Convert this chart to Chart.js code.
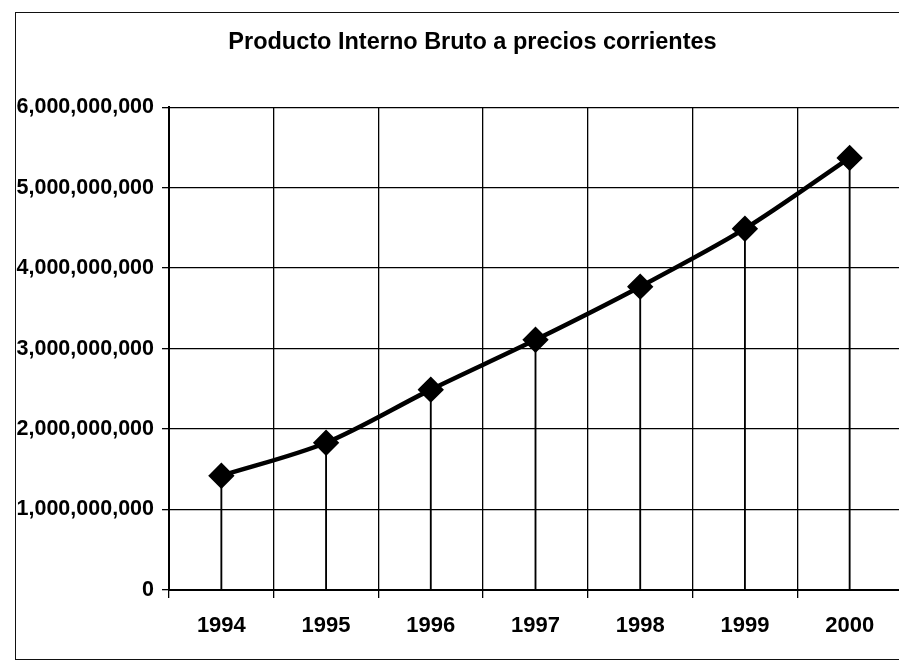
<!DOCTYPE html>
<html>
<head>
<meta charset="utf-8">
<script src="https://cdn.jsdelivr.net/npm/chart.js@4.4.1/dist/chart.umd.min.js"></script>
<style>
  html, body { margin: 0; padding: 0; background: #fff; overflow: hidden; width: 899px; height: 667px; }
  #marco { position: absolute; left: 15px; top: 12px; width: 915px; height: 648px; border: 1.5px solid #111; box-sizing: border-box; }
</style>
</head>
<body>
<div id="marco"><canvas id="myChart"></canvas></div>
<script>
// datos
var anios = ['1994', '1995', '1996', '1997', '1998', '1999', '2000'];
var pib = [1420000000, 1830000000, 2490000000, 3110000000, 3770000000, 4490000000, 5370000000];
var titulo = 'Producto Interno Bruto a precios corrientes';
var yMax = 6000000000;
var yPaso = 1000000000;

var fuente = 'Liberation Sans, Arial, sans-serif';
var ctx = document.getElementById('myChart').getContext('2d');

var myChart = new Chart(ctx, {
    data: {
        labels: anios,
        datasets: [{
            type: 'line',
            label: 'PIB',
            data: pib,
            borderColor: '#000',
            backgroundColor: '#000',
            borderWidth: 4.5,
            tension: 0.3,
            pointStyle: 'rectRot',
            pointRadius: 10,
            pointBackgroundColor: '#000',
            pointBorderColor: '#000',
            order: 0
        }, {
            // lineas de caida hasta el eje
            type: 'bar',
            label: 'caida',
            data: pib,
            backgroundColor: '#000',
            barThickness: 1.2,
            order: 1
        }]
    },
    options: {
        responsive: true,
        maintainAspectRatio: false,
        animation: false,
        layout: { padding: 0 },
        plugins: {
            legend: { display: false },
            tooltip: { enabled: false },
            title: {
                display: true,
                text: titulo,
                color: '#000',
                font: { family: fuente, size: 23.5, weight: 'bold' },
                padding: { top: 15, bottom: 51 }
            }
        },
        scales: {
            x: {
                offset: true,
                grid: { offset: true, color: '#000', lineWidth: 1.3, tickLength: 8, drawOnChartArea: true },
                border: { color: '#000', width: 2 },
                ticks: { color: '#000', padding: 15, font: { family: fuente, size: 22, weight: 'bold' } },
                afterFit: function (scale) { scale.height = 69; }
            },
            y: {
                min: 0,
                max: yMax,
                grid: { color: '#000', lineWidth: 1.3, tickLength: 7 },
                border: { color: '#000', width: 2 },
                ticks: {
                    stepSize: yPaso,
                    color: '#000',
                    padding: 8,
                    font: { family: fuente, size: 21.5, weight: 'bold' },
                    callback: function (v) { return Number(v).toLocaleString('en-US'); }
                },
                afterFit: function (scale) { scale.width = 153; }
            },
            // eje vacio a la derecha, solo reserva espacio
            margen: {
                position: 'right',
                min: 0,
                max: yMax,
                grid: { display: false },
                border: { display: false },
                ticks: { display: false },
                afterFit: function (scale) { scale.width = 27; }
            }
        }
    }
});
</script>
</body>
</html>
